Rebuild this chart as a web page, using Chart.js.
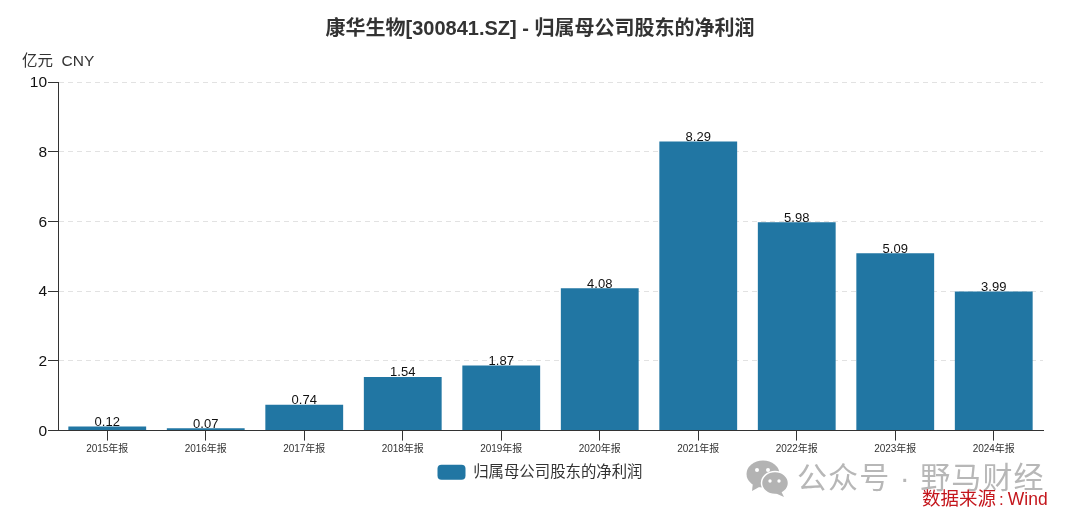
<!DOCTYPE html>
<html><head><meta charset="utf-8">
<style>
html,body{margin:0;padding:0;background:#fff;width:1080px;height:523px;overflow:hidden}
#w{position:relative;width:1080px;height:523px}
canvas{position:absolute;left:0;top:0}
.o{position:absolute;white-space:nowrap;font-family:"Liberation Sans","Noto Sans CJK SC",sans-serif}
</style>
<script src="https://cdn.jsdelivr.net/npm/chart.js@4/dist/chart.umd.min.js"></script>
</head><body><div id="w">
<canvas id="c" width="1080" height="523"></canvas>
<div class="o" style="left:22px;top:48px;font-size:15.5px;color:#333">亿元&nbsp; CNY</div>
<svg class="o" style="left:746px;top:460px" width="44" height="38" viewBox="0 0 44 38">
<ellipse cx="17" cy="14" rx="16.5" ry="13.5" fill="#b3b3b3"/><path d="M7 22 L6 31 L15 26Z" fill="#b3b3b3"/>
<ellipse cx="29" cy="23" rx="13.5" ry="11.5" fill="#b3b3b3" stroke="#fff" stroke-width="1.5"/><path d="M35 31 L38 37 L29 33Z" fill="#b3b3b3"/>
<circle cx="11" cy="10" r="2" fill="#fff"/><circle cx="22" cy="10" r="2" fill="#fff"/><circle cx="24" cy="21" r="1.7" fill="#fff"/><circle cx="33" cy="21" r="1.7" fill="#fff"/></svg>
<div class="o" style="left:797px;top:453px;font-size:30px;color:#b7b7b7;letter-spacing:1.1px">公众号 · 野马财经</div>
<div class="o" style="left:922px;top:487px;font-size:18.5px;color:#c4161c;line-height:24px">数据来源<span style="margin:0 4px 0 3px;font-size:17px">:</span><span style="font-size:17.5px">Wind</span></div>
</div>
<script>
const categories=["2015年报","2016年报","2017年报","2018年报","2019年报","2020年报","2021年报","2022年报","2023年报","2024年报"];
const netProfit=[0.12,0.07,0.74,1.54,1.87,4.08,8.29,5.98,5.09,3.99];
const seriesName="归属母公司股东的净利润";
const chartTitle="康华生物[300841.SZ] - 归属母公司股东的净利润";
const yTicks=[0,2,4,6,8,10];
const FF='"Liberation Sans","Noto Sans CJK SC",sans-serif';
const valueLabels={id:'valueLabels',afterDatasetsDraw(ch){
  const c=ch.ctx,m=ch.getDatasetMeta(0);
  c.save();c.font='13px '+FF;c.fillStyle='#111';c.textAlign='center';c.textBaseline='alphabetic';
  m.data.forEach((b,i)=>c.fillText(netProfit[i].toFixed(2),b.x,b.y-0.5));
  c.restore();
}};
new Chart(document.getElementById('c'),{
  type:'bar',
  data:{labels:categories,datasets:[{label:seriesName,data:netProfit,backgroundColor:'#2176a3',categoryPercentage:1,barPercentage:0.79}]},
  options:{
    responsive:false,animation:false,devicePixelRatio:1,
    layout:{padding:{left:17,right:17,top:0,bottom:33}},
    plugins:{
      title:{display:true,text:chartTitle,color:'#333',font:{family:FF,size:20,weight:'bold'},padding:{top:17,bottom:41}},
      legend:{position:'bottom',labels:{color:'#333',font:{family:FF,size:15.4},boxWidth:28,boxHeight:15,useBorderRadius:true,borderRadius:4,padding:5}},
      tooltip:{enabled:false}
    },
    scales:{
      x:{grid:{offset:false,drawOnChartArea:false,drawTicks:true,tickLength:10,tickColor:'#333',tickWidth:1},
         border:{color:'#333',width:1},
         ticks:{color:'#333',font:{family:FF,size:10},maxRotation:0,autoSkip:false,padding:3},
         afterFit(s){s.height=29}},
      y:{min:0,max:10,
         afterBuildTicks(s){s.ticks=yTicks.map(v=>({value:v}))},
         grid:{color:'#e2e2e2',tickColor:'#333',tickLength:10,tickBorderDash:[]},
         border:{color:'#333',width:1,dash:[5,4]},
         ticks:{color:'#111',font:{family:FF,size:15.5},padding:1,labelOffset:1},
         afterFit(s){s.width=41}},
      spacer:{position:'right',display:true,min:0,max:10,
         grid:{drawOnChartArea:false,drawTicks:false},
         border:{display:false},
         ticks:{display:false},
         afterFit(s){s.width=20}}
    }
  },
  plugins:[valueLabels]
});
</script></body></html>
